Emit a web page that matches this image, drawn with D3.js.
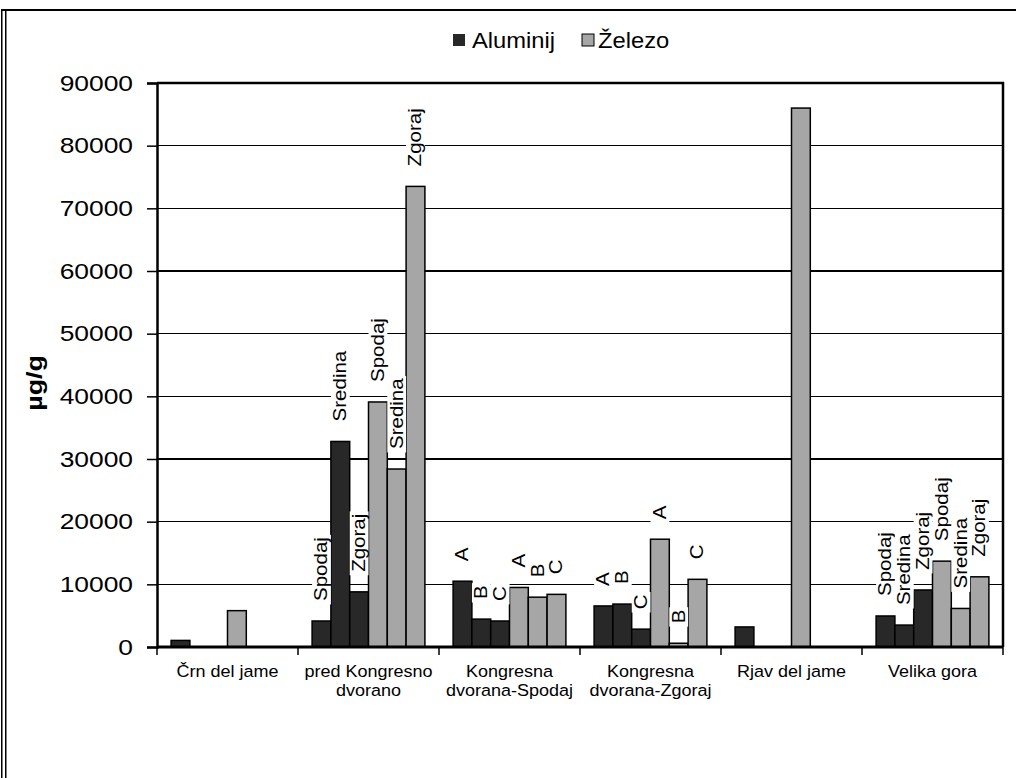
<!DOCTYPE html>
<html>
<head>
<meta charset="utf-8">
<script src="https://cdn.jsdelivr.net/npm/d3@7"></script>
<style>
  html, body { margin: 0; padding: 0; background: #fff; }
  svg { display: block; font-family: "Liberation Sans", Arial, sans-serif; }
</style>
</head>
<body>
<svg id="chart" width="1016" height="778"></svg>
<script>
// Sampling sites (x categories), split into lines for the axis labels
const categories = ["Črn del jame", "pred Kongresno dvorano", "Kongresna dvorana-Spodaj",
                    "Kongresna dvorana-Zgoraj", "Rjav del jame", "Velika gora"];
const categoryLines = [["Črn del jame"], ["pred Kongresno", "dvorano"], ["Kongresna", "dvorana-Spodaj"],
                       ["Kongresna", "dvorana-Zgoraj"], ["Rjav del jame"], ["Velika gora"]];

// Sub-sample names written above the bars of each site (none for single samples)
const sampleLabels = [null, ["Spodaj", "Sredina", "Zgoraj"], ["A", "B", "C"],
                      ["A", "B", "C"], null, ["Spodaj", "Sredina", "Zgoraj"]];

// Concentrations in µg/g, three samples per site
const aluminij = [[1050, null, null], [4150, 32800, 8800], [10500, 4450, 4150],
                  [6550, 6850, 2850], [3200, null, null], [4950, 3500, 9100]];
const zelezo   = [[5800, null, null], [39100, 28400, 73500], [9500, 7950, 8400],
                  [17200, 600, 10800], [86000, null, null], [13700, 6150, 11200]];

const seriesNames = ["Aluminij", "Železo"];
const seriesColors = ["#282828", "#a6a6a6"];
const yTicks = [0, 10000, 20000, 30000, 40000, 50000, 60000, 70000, 80000, 90000];
const yTitle = "µg/g";

const svg = d3.select("#chart");
const plot = { left: 157, right: 1003, top: 83, bottom: 647 };

const x = d3.scaleBand().domain(categories).range([plot.left, plot.right]).padding(0);
const sub = d3.scaleBand().domain(d3.range(6)).range([0, x.bandwidth()])
  .paddingInner(0).paddingOuter(0.75);
const y = d3.scaleLinear().domain([0, 90000]).range([plot.bottom, plot.top]);

// Outer frame
svg.append("rect").attr("width", 1016).attr("height", 778).attr("fill", "#fff");
const frame = svg.append("g").attr("stroke", "#000").attr("fill", "none");
frame.append("line").attr("x1", 1.75).attr("x2", 1.75).attr("y1", 9).attr("y2", 778).attr("stroke-width", 1.5);
frame.append("line").attr("x1", 5.75).attr("x2", 5.75).attr("y1", 9).attr("y2", 778).attr("stroke-width", 1.5);
frame.append("line").attr("x1", 1).attr("x2", 1016).attr("y1", 10).attr("y2", 10).attr("stroke-width", 2);

// Horizontal gridlines
svg.append("g")
  .selectAll("line").data(yTicks.slice(1))
  .join("line")
  .attr("x1", plot.left).attr("x2", plot.right)
  .attr("y1", d => y(d)).attr("y2", d => y(d))
  .attr("stroke", "#000").attr("stroke-width", 1.5)
  .attr("shape-rendering", "crispEdges");

// Flatten bars: one record per sample and element
const bars = [];
categories.forEach((c, ci) => {
  [aluminij, zelezo].forEach((vals, si) => {
    vals[ci].forEach((v, k) => {
      if (v == null) return;
      bars.push({ cat: c, slot: si * 3 + k, value: v, series: si,
                  label: sampleLabels[ci] ? sampleLabels[ci][k] : null });
    });
  });
});

svg.append("g")
  .selectAll("rect").data(bars)
  .join("rect")
  .attr("x", d => x(d.cat) + sub(d.slot))
  .attr("width", sub.bandwidth())
  .attr("y", d => y(d.value))
  .attr("height", d => y(0) - y(d.value))
  .attr("fill", d => seriesColors[d.series])
  .attr("stroke", "#000").attr("stroke-width", 1.5);

// Plot border (top and right) and axes
svg.append("path")
  .attr("d", `M${plot.left},${plot.top}H${plot.right}V${plot.bottom}`)
  .attr("fill", "none").attr("stroke", "#000").attr("stroke-width", 2.5);

const yAxis = svg.append("g").attr("transform", `translate(${plot.left},0)`)
  .call(d3.axisLeft(y).tickValues(yTicks).tickSize(10).tickPadding(14).tickFormat(d3.format("d")));
yAxis.select(".domain").attr("stroke-width", 2.5);
yAxis.selectAll(".tick line").attr("stroke-width", 1.5);
yAxis.selectAll(".tick text")
  .attr("font-size", 22).attr("fill", "#000")
  .attr("font-family", "Liberation Sans, Arial, sans-serif")
  .each(function () {
    const t = d3.select(this);
    const xx = +t.attr("x");
    t.attr("x", null).attr("transform", `translate(${xx},0) scale(1.2,1)`);
  });

const xAxis = svg.append("g").attr("transform", `translate(0,${plot.bottom})`);
xAxis.append("line").attr("x1", plot.left).attr("x2", plot.right)
  .attr("stroke", "#000").attr("stroke-width", 3);
const boundaries = categories.map(c => x(c)).concat([x(categories[categories.length - 1]) + x.bandwidth()]);
xAxis.selectAll("line.tk").data(boundaries).join("line").attr("class", "tk")
  .attr("x1", d => d).attr("x2", d => d).attr("y1", 0).attr("y2", 8)
  .attr("stroke", "#000").attr("stroke-width", 1.5);

// Category labels
const catG = svg.append("g").attr("font-size", 17).attr("text-anchor", "middle");
categories.forEach((c, i) => {
  const cx = x(c) + x.bandwidth() / 2;
  categoryLines[i].forEach((line, j) => {
    catG.append("text")
      .attr("transform", `translate(${cx},${677 + j * 19}) scale(1.06,1)`)
      .text(line);
  });
});

// Rotated sample labels on white boxes above the bars
const fs = 18, stretch = 1.14, gap = 20;
const labG = svg.append("g");
bars.filter(d => d.label).forEach(d => {
  const cx = x(d.cat) + sub(d.slot) + sub.bandwidth() / 2;
  const base = y(d.value) - gap;
  const g = labG.append("g").attr("transform", `translate(${cx},${base}) rotate(-90) scale(${stretch},1)`);
  const t = g.append("text")
    .attr("font-size", fs).attr("dy", "0.33em")
    .text(d.label);
  const len = t.node().getComputedTextLength();
  g.insert("rect", "text")
    .attr("x", -3).attr("y", -sub.bandwidth() / 2)
    .attr("width", len + 5).attr("height", sub.bandwidth())
    .attr("fill", "#fff");
});

// Y-axis title
svg.append("text")
  .attr("transform", "translate(42,383) rotate(-90) scale(1.22,1)")
  .attr("text-anchor", "middle").attr("font-size", 22).attr("font-weight", "bold")
  .text(yTitle);

// Legend
const legend = svg.append("g").attr("font-size", 22);
const legendItems = [{ x: 453, tx: 472 }, { x: 582, tx: 598 }];
seriesNames.forEach((name, i) => {
  legend.append("rect").attr("x", legendItems[i].x).attr("y", 34).attr("width", 12).attr("height", 12)
    .attr("fill", seriesColors[i]).attr("stroke", i === 1 ? "#000" : "none").attr("stroke-width", 1);
  legend.append("text").attr("transform", `translate(${legendItems[i].tx},47.5) scale(1.08,1)`).text(name);
});
</script>
</body>
</html>
